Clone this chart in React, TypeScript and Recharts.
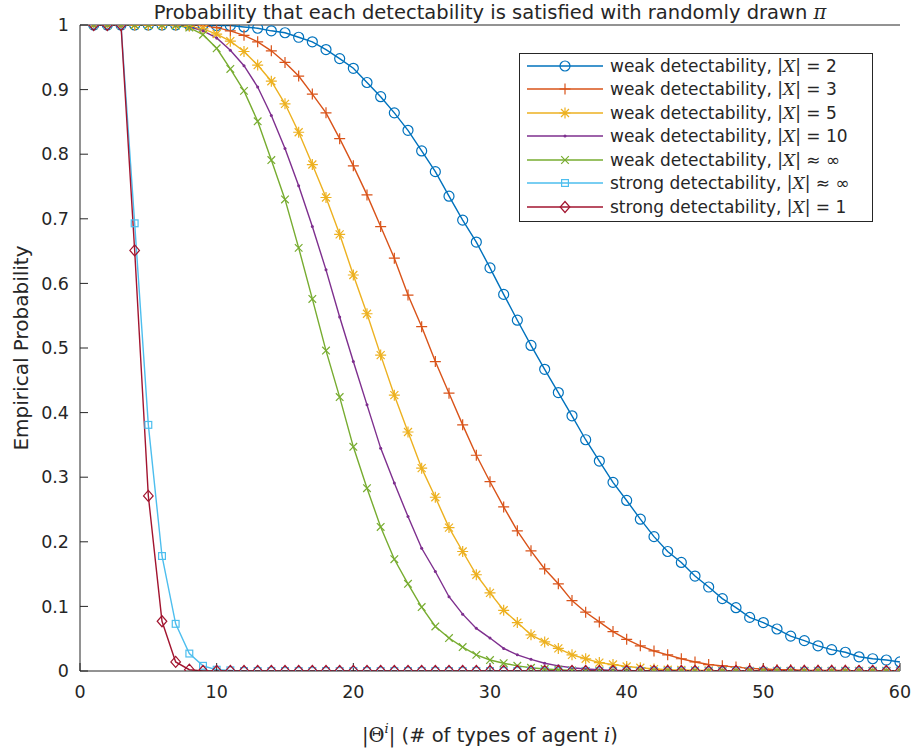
import { LineChart, Line, XAxis, YAxis, Legend } from "recharts"

const xValues = [
  1, 2, 3, 4, 5, 6, 7, 8, 9, 10, 11, 12, 13, 14, 15, 16, 17, 18, 19, 20,
  21, 22, 23, 24, 25, 26, 27, 28, 29, 30, 31, 32, 33, 34, 35, 36, 37, 38, 39, 40,
  41, 42, 43, 44, 45, 46, 47, 48, 49, 50, 51, 52, 53, 54, 55, 56, 57, 58, 59, 60,
]

const weakX2 = [
  1, 1, 1, 1, 1, 1, 1, 1, 1, 0.999, 0.999, 0.997, 0.995, 0.991, 0.988, 0.981, 0.974, 0.962, 0.948, 0.933,
  0.911, 0.889, 0.864, 0.837, 0.805, 0.773, 0.735, 0.698, 0.664, 0.624, 0.583, 0.543, 0.504, 0.467, 0.431, 0.395, 0.358, 0.325, 0.292, 0.264,
  0.235, 0.208, 0.185, 0.168, 0.147, 0.13, 0.112, 0.098, 0.083, 0.075, 0.065, 0.054, 0.047, 0.039, 0.033, 0.029, 0.022, 0.019, 0.017, 0.014,
]

const weakX3 = [
  1, 1, 1, 1, 1, 1, 1, 1, 0.999, 0.996, 0.991, 0.984, 0.974, 0.96, 0.942, 0.921, 0.893, 0.864, 0.824, 0.782,
  0.737, 0.688, 0.639, 0.582, 0.533, 0.479, 0.43, 0.381, 0.334, 0.293, 0.254, 0.217, 0.186, 0.158, 0.135, 0.109, 0.091, 0.076, 0.061, 0.049,
  0.039, 0.031, 0.025, 0.019, 0.014, 0.01, 0.008, 0.006, 0.004, 0.003, 0.002, 0.002, 0.001, 0.001, 0.001, 0.001, 0, 0, 0, 0,
]

const weakX5 = [
  1, 1, 1, 1, 1, 1, 1, 0.998, 0.994, 0.986, 0.975, 0.959, 0.938, 0.913, 0.878, 0.834, 0.784, 0.733, 0.676, 0.613,
  0.553, 0.489, 0.427, 0.37, 0.314, 0.269, 0.222, 0.185, 0.149, 0.121, 0.094, 0.075, 0.056, 0.045, 0.035, 0.025, 0.019, 0.013, 0.01, 0.007,
  0.005, 0.003, 0.002, 0.0015, 0.001, 0.001, 0, 0, 0, 0, 0, 0, 0, 0, 0, 0, 0, 0, 0, 0,
]

const weakX10 = [
  1, 1, 1, 1, 1, 1, 0.999, 0.997, 0.991, 0.98, 0.961, 0.937, 0.904, 0.86, 0.809, 0.751, 0.688, 0.621, 0.548, 0.479,
  0.412, 0.345, 0.291, 0.239, 0.19, 0.154, 0.115, 0.088, 0.066, 0.051, 0.035, 0.025, 0.018, 0.012, 0.008, 0.005, 0.003, 0.002, 0.001, 0.001,
  0, 0, 0, 0, 0, 0, 0, 0, 0, 0, 0, 0, 0, 0, 0, 0, 0, 0, 0, 0,
]

const weakInf = [
  1, 1, 1, 1, 1, 1, 0.999, 0.996, 0.985, 0.964, 0.932, 0.898, 0.851, 0.791, 0.73, 0.655, 0.576, 0.496, 0.424, 0.347,
  0.283, 0.223, 0.173, 0.135, 0.099, 0.069, 0.051, 0.037, 0.025, 0.017, 0.012, 0.008, 0.005, 0.003, 0.002, 0.001, 0, 0, 0, 0,
  0, 0, 0, 0, 0, 0, 0, 0, 0, 0, 0, 0, 0, 0, 0, 0, 0, 0, 0, 0,
]

const strongInf = [
  1, 1, 1, 0.693, 0.381, 0.178, 0.073, 0.027, 0.008, 0.002, 0.001, 0, 0, 0, 0, 0, 0, 0, 0, 0,
  0, 0, 0, 0, 0, 0, 0, 0, 0, 0, 0, 0, 0, 0, 0, 0, 0, 0, 0, 0,
  0, 0, 0, 0, 0, 0, 0, 0, 0, 0, 0, 0, 0, 0, 0, 0, 0, 0, 0, 0,
]

const strongX1 = [
  1, 1, 1, 0.651, 0.271, 0.077, 0.014, 0.002, 0, 0, 0, 0, 0, 0, 0, 0, 0, 0, 0, 0,
  0, 0, 0, 0, 0, 0, 0, 0, 0, 0, 0, 0, 0, 0, 0, 0, 0, 0, 0, 0,
  0, 0, 0, 0, 0, 0, 0, 0, 0, 0, 0, 0, 0, 0, 0, 0, 0, 0, 0, 0,
]

const xTicks = [0, 10, 20, 30, 40, 50, 60]
const yTicks = [0, 0.1, 0.2, 0.3, 0.4, 0.5, 0.6, 0.7, 0.8, 0.9, 1]

const series = [
  { key: "weakX2", values: weakX2, color: "#0072BD", marker: "o", kind: "weak", rel: "=", card: "2" },
  { key: "weakX3", values: weakX3, color: "#D95319", marker: "+", kind: "weak", rel: "=", card: "3" },
  { key: "weakX5", values: weakX5, color: "#EDB120", marker: "*", kind: "weak", rel: "=", card: "5" },
  { key: "weakX10", values: weakX10, color: "#7E2F8E", marker: ".", kind: "weak", rel: "=", card: "10" },
  { key: "weakInf", values: weakInf, color: "#77AC30", marker: "x", kind: "weak", rel: "≈", card: "∞" },
  { key: "strongInf", values: strongInf, color: "#4DBEEE", marker: "s", kind: "strong", rel: "≈", card: "∞" },
  { key: "strongX1", values: strongX1, color: "#A2142F", marker: "d", kind: "strong", rel: "=", card: "1" },
]

const data = xValues.map((x, i) => {
  const row: Record<string, number> = { x }
  series.forEach((s) => {
    row[s.key] = s.values[i]
  })
  return row
})

const FONT = "'DejaVu Sans', sans-serif"
const SERIF = "'DejaVu Serif', serif"
const AXIS = "#262626"

function Marker({ shape, x, y, color }: { shape: string; x: number; y: number; color: string }) {
  const sw = 1.2
  if (shape === "o") return <circle cx={x} cy={y} r={5} fill="none" stroke={color} strokeWidth={sw} />
  if (shape === "+")
    return (
      <path d={`M${x - 5.5},${y}H${x + 5.5}M${x},${y - 5.5}V${y + 5.5}`} stroke={color} strokeWidth={sw} fill="none" />
    )
  if (shape === "*")
    return (
      <path
        d={`M${x - 5.5},${y}H${x + 5.5}M${x},${y - 5.5}V${y + 5.5}M${x - 4},${y - 4}L${x + 4},${y + 4}M${x - 4},${y + 4}L${x + 4},${y - 4}`}
        stroke={color}
        strokeWidth={sw}
        fill="none"
      />
    )
  if (shape === ".") return <circle cx={x} cy={y} r={1.5} fill={color} stroke="none" />
  if (shape === "x")
    return (
      <path
        d={`M${x - 3.8},${y - 3.8}L${x + 3.8},${y + 3.8}M${x - 3.8},${y + 3.8}L${x + 3.8},${y - 3.8}`}
        stroke={color}
        strokeWidth={sw}
        fill="none"
      />
    )
  if (shape === "s")
    return <rect x={x - 3.4} y={y - 3.4} width={6.8} height={6.8} fill="none" stroke={color} strokeWidth={sw} />
  return (
    <path d={`M${x},${y - 5.5}L${x + 4.8},${y}L${x},${y + 5.5}L${x - 4.8},${y}Z`} fill="none" stroke={color} strokeWidth={sw} />
  )
}

function LegendBox() {
  return (
    <div
      style={{
        border: `1px solid ${AXIS}`,
        background: "#fff",
        padding: "0 0 2px 0",
        fontFamily: FONT,
        fontSize: 17,
        color: AXIS,
      }}
    >
      {series.map((s) => (
        <div key={s.key} style={{ display: "flex", alignItems: "center", height: 23.5 }}>
          <svg width={90} height={20} style={{ flex: "none" }}>
            <line x1={7} x2={83} y1={10} y2={10} stroke={s.color} strokeWidth={1.4} />
            <Marker shape={s.marker} x={45} y={10} color={s.color} />
          </svg>
          <span style={{ whiteSpace: "nowrap" }}>
            {s.kind} detectability, |<i style={{ fontFamily: SERIF }}>X</i>| {s.rel} {s.card}
          </span>
        </div>
      ))}
    </div>
  )
}

export default function App() {
  return (
    <div style={{ position: "absolute", left: 0, top: 0, width: 913, height: 748, background: "#fff" }}>
      <LineChart width={913} height={748} data={data} margin={{ top: 0, right: 13, bottom: 0, left: 0 }}>
        <XAxis
          dataKey="x"
          type="number"
          domain={[0, 60]}
          ticks={xTicks}
          height={77}
          allowDataOverflow
          stroke={AXIS}
          tickSize={-8}
          tickMargin={23}
          tick={{ fill: AXIS, fontSize: 17.5, fontFamily: FONT }}
          label={(props: any) => {
            const vb = props.viewBox
            return (
              <text
                x={vb.x + vb.width / 2}
                y={vb.y + 71}
                textAnchor="middle"
                fill={AXIS}
                fontSize={19.5}
                fontFamily={FONT}
              >
                <tspan fontFamily={SERIF}>|Θ</tspan>
                <tspan dy={-9} fontSize={13} fontStyle="italic" fontFamily={SERIF}>i</tspan>
                <tspan dy={9} fontFamily={SERIF}>|</tspan>
                <tspan> (# of types of agent </tspan>
                <tspan fontStyle="italic" fontFamily={SERIF}>i</tspan>
                <tspan>)</tspan>
              </text>
            )
          }}
        />
        <XAxis
          xAxisId="top"
          dataKey="x"
          type="number"
          orientation="top"
          domain={[0, 60]}
          ticks={xTicks}
          height={25}
          allowDataOverflow
          stroke={AXIS}
          tickSize={-8}
          tick={false}
          label={(props: any) => {
            const vb = props.viewBox
            return (
              <text x={vb.x + vb.width / 2} y={19} textAnchor="middle" fill={AXIS} fontSize={19.5} fontFamily={FONT}>
                Probability that each detectability is satisfied with randomly drawn{" "}
                <tspan fontStyle="italic" fontFamily={SERIF}>π</tspan>
              </text>
            )
          }}
        />
        <YAxis
          type="number"
          domain={[0, 1]}
          ticks={yTicks}
          width={80}
          allowDataOverflow
          stroke={AXIS}
          tickSize={-8}
          tickMargin={19}
          tickFormatter={(v: number) => (v === 0 || v === 1 ? String(v) : v.toFixed(1))}
          tick={{ fill: AXIS, fontSize: 17.5, fontFamily: FONT }}
          label={(props: any) => {
            const vb = props.viewBox
            const cy = vb.y + vb.height / 2
            return (
              <text
                x={21}
                y={cy}
                transform={`rotate(-90, 21, ${cy})`}
                textAnchor="middle"
                dominantBaseline="central"
                fill={AXIS}
                fontSize={20}
                fontFamily={FONT}
              >
                Empirical Probability
              </text>
            )
          }}
        />
        <YAxis
          yAxisId="right"
          type="number"
          orientation="right"
          domain={[0, 1]}
          ticks={yTicks}
          width={0}
          allowDataOverflow
          stroke={AXIS}
          tickSize={-8}
          tick={false}
        />
        {series.map((s) => (
          <Line
            key={s.key}
            dataKey={s.key}
            type="linear"
            stroke={s.color}
            strokeWidth={1.4}
            isAnimationActive={false}
            activeDot={false}
            dot={(p: any) => <Marker key={`${s.key}-${p.index}`} shape={s.marker} x={p.cx} y={p.cy} color={s.color} />}
          />
        ))}
        <Legend
          layout="vertical"
          align="center"
          verticalAlign="middle"
          wrapperStyle={{ left: 519, top: 53, width: 354, height: "auto" }}
          content={() => <LegendBox />}
        />
      </LineChart>
    </div>
  )
}
